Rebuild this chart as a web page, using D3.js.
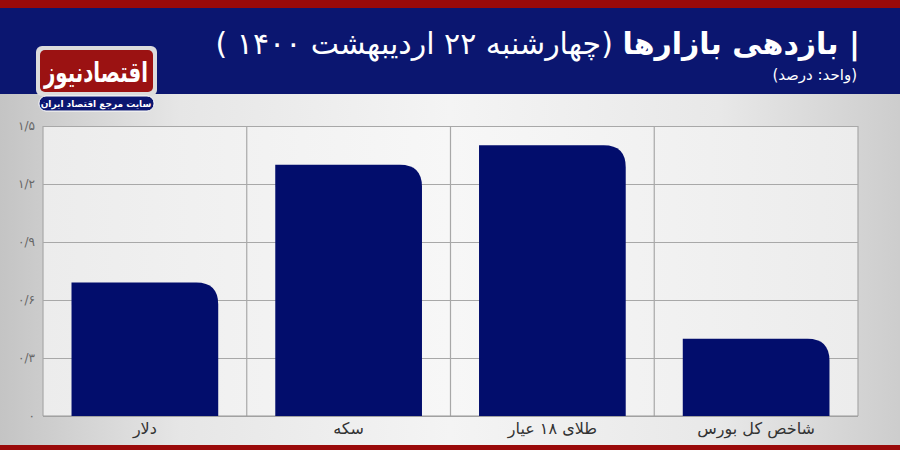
<!DOCTYPE html>
<html><head><meta charset="utf-8">
<script src="https://cdn.jsdelivr.net/npm/d3@7"></script>
<style>html,body{margin:0;padding:0;background:#fff;}svg{display:block;}</style>
</head><body>
<svg id="c" width="900" height="450"></svg>
<script>
const categories = ["دلار", "سکه", "طلای ۱۸ عیار", "شاخص کل بورس"];
const values = [0.69, 1.30, 1.40, 0.40];
const tickValues = [0, 0.3, 0.6, 0.9, 1.2, 1.5];
const tickLabels = ["۰", "۰/۳", "۰/۶", "۰/۹", "۱/۲", "۱/۵"];
const titleBold = "| بازدهی بازارها";
const titleRest = " (چهارشنبه ۲۲ اردیبهشت ۱۴۰۰ )";
const subtitle = "(واحد: درصد)";

const svg = d3.select("#c");
const W = 900, H = 450;
const FONT = "'DejaVu Sans', 'Noto Sans', sans-serif";
const defs = svg.append("defs");
const bg = defs.append("linearGradient").attr("id","bg").attr("x1","0").attr("x2","1").attr("y1","0").attr("y2","0");
[["0%","#c4c4c4"],["20%","#e6e6e6"],["50%","#f4f4f4"],["80%","#e8e8e8"],["100%","#cdcdcd"]].forEach(s=>bg.append("stop").attr("offset",s[0]).attr("stop-color",s[1]));
const pg = defs.append("linearGradient").attr("id","pg").attr("x1","0").attr("x2","1").attr("y1","0").attr("y2","0");
[["0%","#ececec"],["50%","#f7f7f7"],["100%","#ececec"]].forEach(s=>pg.append("stop").attr("offset",s[0]).attr("stop-color",s[1]));

svg.append("rect").attr("width",W).attr("height",H).attr("fill","url(#bg)");
// header
svg.append("rect").attr("x",0).attr("y",0).attr("width",W).attr("height",8).attr("fill","#9a0a0a");
svg.append("rect").attr("x",0).attr("y",8).attr("width",W).attr("height",86).attr("fill","#0b1670");
svg.append("rect").attr("x",0).attr("y",445).attr("width",W).attr("height",5).attr("fill","#9a0a0a");

const m = {left:43, right:858, top:126, bottom:416};
const x = d3.scaleBand().domain(categories).range([m.left, m.right]).paddingInner(0.28).paddingOuter(0.14);
const y = d3.scaleLinear().domain([0,1.5]).range([m.bottom, m.top]);

svg.append("rect").attr("x",m.left).attr("y",m.top).attr("width",m.right-m.left).attr("height",m.bottom-m.top).attr("fill","url(#pg)");

// horizontal grid
const yAxis = d3.axisLeft(y).tickValues(tickValues).tickSize(-(m.right-m.left)).tickFormat((d,i)=>tickLabels[i]);
const ga = svg.append("g").attr("transform",`translate(${m.left},0)`).call(yAxis);
ga.select(".domain").remove();
ga.selectAll(".tick line").attr("stroke","#a8a8a8").attr("stroke-width",1.2);
ga.selectAll(".tick text").attr("x",-8).attr("fill","#666").attr("font-size",12).attr("font-family",FONT);

// vertical grid at band boundaries
const bounds = d3.range(categories.length+1).map(i => m.left + i*(m.right-m.left)/categories.length);
svg.append("g").selectAll("line").data(bounds).join("line")
  .attr("x1",d=>d).attr("x2",d=>d).attr("y1",m.top).attr("y2",m.bottom)
  .attr("stroke","#a8a8a8").attr("stroke-width",1.2);
svg.append("line").attr("x1",m.left).attr("x2",m.right).attr("y1",m.bottom).attr("y2",m.bottom).attr("stroke","#999").attr("stroke-width",1.2);

// bars with rounded top-right corner
const r = 22;
function barPath(d,i){
  const x0 = x(categories[i]), x1 = x0 + x.bandwidth(), y0 = y(d), yb = y(0);
  const rr = Math.min(r, (yb-y0));
  return `M${x0},${yb} L${x0},${y0} L${x1-rr},${y0} Q${x1},${y0} ${x1},${y0+rr} L${x1},${yb} Z`;
}
svg.append("g").selectAll("path").data(values).join("path").attr("d",barPath).attr("fill","#020d6c");

// x labels
svg.append("g").selectAll("text").data(categories).join("text")
  .attr("x",d=>x(d)+x.bandwidth()/2).attr("y",434).attr("text-anchor","middle")
  .attr("font-size",16).attr("fill","#333").attr("font-family",FONT).attr("direction","rtl").text(d=>d);

// title
const t = svg.append("text").attr("x",860).attr("y",54).attr("direction","rtl").attr("text-anchor","start")
  .attr("font-family",FONT).attr("fill","#fff").attr("font-size",30);
t.append("tspan").attr("font-weight","bold").text(titleBold);
t.append("tspan").text(titleRest);
svg.append("text").attr("x",857).attr("y",80).attr("direction","rtl").attr("text-anchor","start")
  .attr("font-family",FONT).attr("fill","#fff").attr("font-size",15).text(subtitle);

// logo
svg.append("rect").attr("x",36).attr("y",46).attr("width",121).attr("height",50).attr("rx",6).attr("fill","#dcdcdc");
svg.append("rect").attr("x",40).attr("y",50).attr("width",113).attr("height",42).attr("rx",5).attr("fill","#9b1212");
svg.append("text").attr("x",96).attr("y",82).attr("text-anchor","middle").attr("font-family",FONT)
  .attr("font-weight","bold").attr("font-size",28).attr("fill","#fff").attr("direction","rtl")
  .attr("textLength",104).attr("lengthAdjust","spacingAndGlyphs").text("اقتصادنیوز");
svg.append("rect").attr("x",39).attr("y",96).attr("width",115).attr("height",15).attr("rx",7).attr("fill","#0b1670").attr("stroke","#fff").attr("stroke-width",1);
svg.append("text").attr("x",96).attr("y",107).attr("text-anchor","middle").attr("font-family",FONT)
  .attr("font-weight","bold").attr("font-size",9).attr("fill","#fff").attr("direction","rtl").text("سایت مرجع اقتصاد ایران");
</script>
</body></html>
